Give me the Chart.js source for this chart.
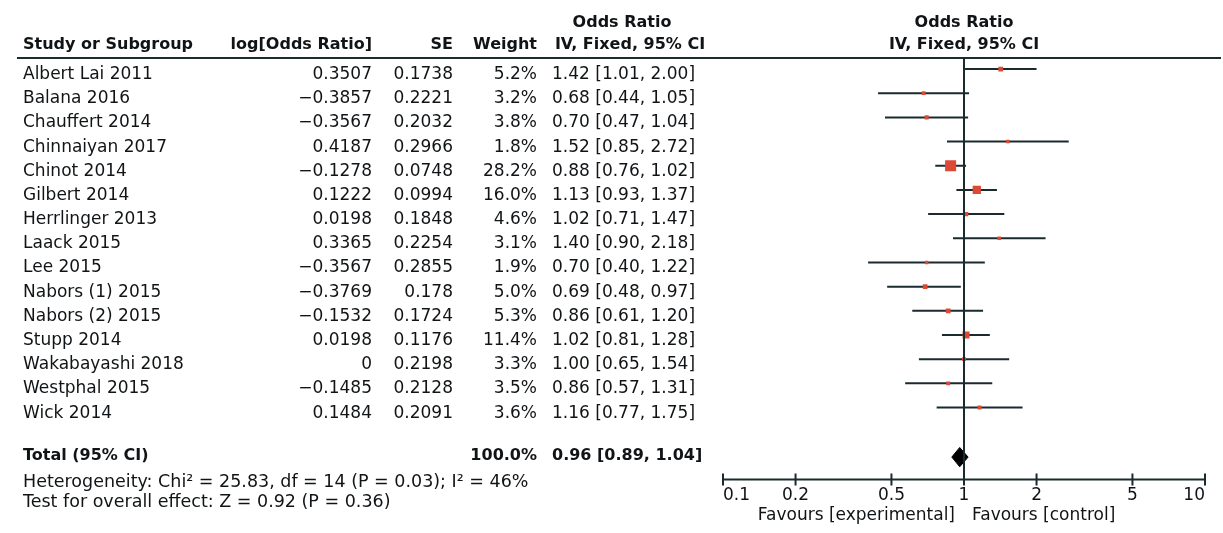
<!DOCTYPE html>
<html>
<head>
<meta charset="utf-8">
<script src="https://cdn.jsdelivr.net/npm/chart.js@4.4.1/dist/chart.umd.min.js"></script>
<style>
  body { margin: 0; background: #fff; }
  canvas { display: block; }
</style>
</head>
<body>
<canvas id="forest" width="1223" height="533"></canvas>
<script>
// Study data
const studies = ["Albert Lai 2011", "Balana 2016", "Chauffert 2014", "Chinnaiyan 2017", "Chinot 2014",
  "Gilbert 2014", "Herrlinger 2013", "Laack 2015", "Lee 2015", "Nabors (1) 2015", "Nabors (2) 2015",
  "Stupp 2014", "Wakabayashi 2018", "Westphal 2015", "Wick 2014"];
const logOR = [0.3507, -0.3857, -0.3567, 0.4187, -0.1278, 0.1222, 0.0198, 0.3365, -0.3567, -0.3769,
  -0.1532, 0.0198, 0, -0.1485, 0.1484];
const seVals = [0.1738, 0.2221, 0.2032, 0.2966, 0.0748, 0.0994, 0.1848, 0.2254, 0.2855, 0.178,
  0.1724, 0.1176, 0.2198, 0.2128, 0.2091];
const weights = [5.2, 3.2, 3.8, 1.8, 28.2, 16.0, 4.6, 3.1, 1.9, 5.0, 5.3, 11.4, 3.3, 3.5, 3.6];
const oddsRatio = [1.42, 0.68, 0.70, 1.52, 0.88, 1.13, 1.02, 1.40, 0.70, 0.69, 0.86, 1.02, 1.00, 0.86, 1.16];
const ciLow = [1.01, 0.44, 0.47, 0.85, 0.76, 0.93, 0.71, 0.90, 0.40, 0.48, 0.61, 0.81, 0.65, 0.57, 0.77];
const ciHigh = [2.00, 1.05, 1.04, 2.72, 1.02, 1.37, 1.47, 2.18, 1.22, 0.97, 1.20, 1.28, 1.54, 1.31, 1.75];

// Pooled estimate
const totalWeight = 100.0;
const totalOR = 0.96;
const totalLow = 0.89;
const totalHigh = 1.04;

const xTicks = [0.1, 0.2, 0.5, 1, 2, 5, 10];
const footerLines = [
  "Heterogeneity: Chi\u00B2 = 25.83, df = 14 (P = 0.03); I\u00B2 = 46%",
  "Test for overall effect: Z = 0.92 (P = 0.36)"
];

const totalRow = 16.05;
const RED = "#dc4a35";
const INK = "#111416";
const LINE = "#1a2a2e";
const FONT = "DejaVu Sans";

// minus sign like the original table
const num = v => String(v).replace("-", "\u2212");

// CI whiskers as one line dataset, broken with null points
let ciData = [];
studies.forEach((s, i) => {
  ciData.push({ x: ciLow[i], y: i });
  ciData.push({ x: ciHigh[i], y: i });
  ciData.push({ x: 1, y: null });
});

const pointData = studies.map((s, i) => ({ x: oddsRatio[i], y: i }));

const diamondData = [
  { x: totalLow, y: totalRow },
  { x: totalOR, y: totalRow - 0.4 },
  { x: totalHigh, y: totalRow },
  { x: totalOR, y: totalRow + 0.4 },
  { x: totalLow, y: totalRow }
];

// Table, headers and axis decorations
const tablePlugin = {
  id: "forestTable",
  afterDatasetsDraw(chart) {
    const c = chart.ctx;
    const area = chart.chartArea;
    const xs = chart.scales.x;
    const ys = chart.scales.y;
    const x1 = xs.getPixelForValue(1);

    c.save();
    c.strokeStyle = LINE;
    c.lineWidth = 2;

    // line of no effect
    c.beginPath();
    c.moveTo(x1, area.top);
    c.lineTo(x1, area.bottom);
    c.stroke();

    // x axis line with ticks crossing it
    c.beginPath();
    c.moveTo(area.left, area.bottom);
    c.lineTo(area.right, area.bottom);
    xTicks.forEach(v => {
      const px = xs.getPixelForValue(v);
      c.moveTo(px, area.bottom - 6);
      c.lineTo(px, area.bottom + 6);
    });
    c.stroke();

    // header rule
    c.beginPath();
    c.moveTo(17, area.top);
    c.lineTo(1221, area.top);
    c.stroke();

    c.fillStyle = INK;
    c.textBaseline = "alphabetic";

    // headers
    c.font = "bold 16px " + FONT;
    c.textAlign = "left";
    c.fillText("Study or Subgroup", 23, 49);
    c.textAlign = "right";
    c.fillText("log[Odds Ratio]", 372, 49);
    c.fillText("SE", 453, 49);
    c.fillText("Weight", 537, 49);
    c.textAlign = "center";
    c.fillText("Odds Ratio", 622, 27);
    c.fillText("IV, Fixed, 95% CI", 630, 49);
    const mid = (area.left + area.right) / 2;
    c.fillText("Odds Ratio", mid, 27);
    c.fillText("IV, Fixed, 95% CI", mid, 49);

    // study rows
    c.font = "17px " + FONT;
    studies.forEach((s, i) => {
      const y = ys.getPixelForValue(i) + 10;
      c.textAlign = "left";
      c.fillText(s, 23, y);
      c.textAlign = "right";
      c.fillText(num(logOR[i]), 372, y);
      c.fillText(num(seVals[i]), 453, y);
      c.fillText(weights[i].toFixed(1) + "%", 537, y);
      c.textAlign = "left";
      c.fillText(oddsRatio[i].toFixed(2) + " [" + ciLow[i].toFixed(2) + ", " + ciHigh[i].toFixed(2) + "]", 552, y);
    });

    // total row
    const ty = ys.getPixelForValue(totalRow) + 3;
    c.font = "bold 16px " + FONT;
    c.textAlign = "left";
    c.fillText("Total (95% CI)", 23, ty);
    c.textAlign = "right";
    c.fillText(totalWeight.toFixed(1) + "%", 537, ty);
    c.textAlign = "left";
    c.fillText(totalOR.toFixed(2) + " [" + totalLow.toFixed(2) + ", " + totalHigh.toFixed(2) + "]", 552, ty);

    // footer
    c.font = "17.5px " + FONT;
    c.fillText(footerLines[0], 23, 487);
    c.fillText(footerLines[1], 23, 507);

    // favours labels
    c.font = "17px " + FONT;
    c.textAlign = "right";
    c.fillText("Favours [experimental]", x1 - 9, 520);
    c.textAlign = "left";
    c.fillText("Favours [control]", x1 + 8, 520);
    c.restore();
  }
};

const chart = new Chart(document.getElementById("forest"), {
  type: "scatter",
  data: {
    datasets: [
      {
        type: "line",
        data: ciData,
        borderColor: LINE,
        borderWidth: 2,
        pointRadius: 0,
        spanGaps: false,
        fill: false,
        order: 2
      },
      {
        data: pointData,
        pointStyle: "rect",
        pointRadius: ctx => Math.max(2.4, 11 * Math.sqrt(weights[ctx.dataIndex] / 28.2) / 1.414),
        backgroundColor: RED,
        borderWidth: 0,
        order: 1
      },
      {
        type: "line",
        data: diamondData,
        borderColor: "#000",
        borderWidth: 1,
        backgroundColor: "#000",
        pointRadius: 0,
        fill: "shape",
        order: 1
      }
    ]
  },
  options: {
    responsive: false,
    animation: false,
    devicePixelRatio: 1,
    layout: { padding: { left: 723, right: 18, top: 58, bottom: 21 } },
    plugins: {
      legend: { display: false },
      tooltip: { enabled: false }
    },
    scales: {
      x: {
        type: "logarithmic",
        min: 0.1,
        max: 10,
        afterBuildTicks: scale => { scale.ticks = xTicks.map(v => ({ value: v })); },
        grid: { display: false, drawTicks: false },
        border: { display: false },
        ticks: {
          align: "inner",
          padding: 6,
          color: INK,
          font: { family: FONT, size: 17 },
          callback: v => String(v)
        }
      },
      y: {
        type: "linear",
        reverse: true,
        min: -0.456,
        max: 16.98,
        display: false
      }
    }
  },
  plugins: [tablePlugin]
});
</script>
</body>
</html>
